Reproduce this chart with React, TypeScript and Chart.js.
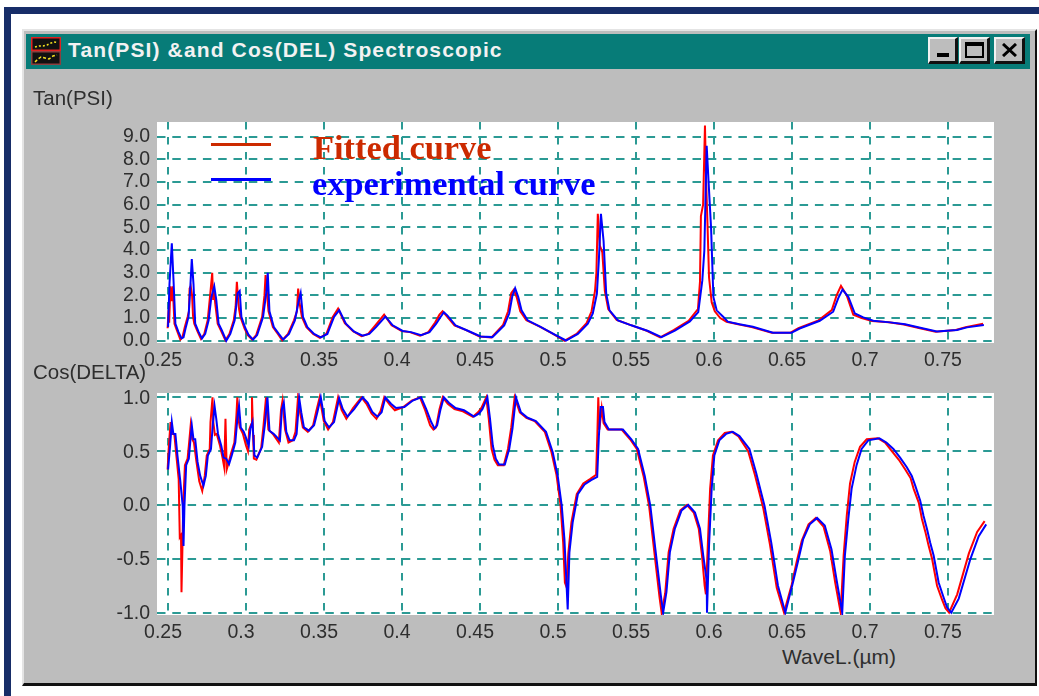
import React, { useEffect, useRef } from "react";
import { Chart, registerables } from "chart.js";

Chart.register(...registerables);

const wavelengthTicks = [0.25, 0.3, 0.35, 0.4, 0.45, 0.5, 0.55, 0.6, 0.65, 0.7, 0.75];
const tanTicks = [0, 1, 2, 3, 4, 5, 6, 7, 8, 9];
const cosTicks = [-1, -0.5, 0, 0.5, 1];

const tanExp = [[.25,.6],[.2509,2.5],[.2524,4.3],[.2534,2.8],[.2547,.75],[.2567,.38],[.2586,.1],[.2599,.15],[.2614,.6],[.2631,1.05],[.2642,2.3],[.2652,3.6],[.2663,2.5],[.2674,.75],[.2695,.4],[.2717,.1],[.2738,.3],[.276,.9],[.2777,1.9],[.2796,2.4],[.2809,1.8],[.2824,.75],[.2845,.45],[.2873,0],[.2899,.3],[.2927,.9],[.2946,2.1],[.2959,2.2],[.297,1.05],[.2996,.55],[.3017,.25],[.3045,.05],[.3071,.25],[.3109,1.05],[.3131,2.2],[.3139,3],[.315,1.3],[.3178,.6],[.321,.3],[.3238,.05],[.3275,.3],[.3313,.9],[.3339,1.8],[.335,2.1],[.3365,1.05],[.3393,.6],[.3436,.3],[.3479,.15],[.3521,.3],[.3564,1.05],[.3597,1.35],[.364,.75],[.3693,.4],[.3747,.22],[.379,.3],[.3833,.6],[.3893,1.07],[.394,.68],[.4004,.43],[.4058,.38],[.4122,.24],[.4176,.38],[.4219,.75],[.4247,1.05],[.4268,1.26],[.429,1.12],[.4343,.68],[.4418,.45],[.4504,.19],[.4579,.16],[.4655,.68],[.4687,1.2],[.4708,2],[.4725,2.32],[.4745,1.93],[.4766,1.34],[.4805,.9],[.4891,.6],[.4976,.28],[.5051,.01],[.5127,.3],[.5191,.75],[.5223,1.2],[.5249,2.07],[.5262,3.6],[.5275,5.6],[.5292,4.4],[.5309,2.07],[.533,1.34],[.5384,.9],[.547,.68],[.5577,.43],[.5663,.16],[.5749,.45],[.5845,.85],[.5899,1.26],[.5925,2.66],[.5938,3.98],[.5953,8.6],[.5964,7.15],[.5981,5],[.5996,1.93],[.6017,1.34],[.606,1.05],[.6088,.84],[.6163,.73],[.6249,.62],[.6378,.35],[.6496,.35],[.6549,.54],[.6678,.88],[.6764,1.28],[.6796,1.87],[.6824,2.26],[.6861,1.94],[.6903,1.2],[.6957,1.03],[.7021,.88],[.7129,.81],[.7225,.73],[.7322,.57],[.7429,.41],[.7558,.47],[.7622,.59],[.773,.69]];

const tanFit = [[.2497,.55],[.2503,1.35],[.2507,.8],[.2515,2.4],[.2522,1.75],[.253,2.4],[.2541,.75],[.2561,.38],[.2579,.05],[.2592,.15],[.2607,.6],[.2625,1.05],[.2634,1.3],[.2638,2.3],[.2645,2.4],[.2654,2],[.266,1.1],[.2668,.75],[.2688,.42],[.2711,.08],[.2732,.3],[.2754,.9],[.2771,2.1],[.2783,3],[.2789,1.8],[.2796,2.1],[.2803,1.6],[.2818,.75],[.2839,.45],[.2868,.02],[.2893,.3],[.2921,.9],[.2933,1.5],[.2941,2.6],[.2948,1.9],[.2955,1.4],[.2964,1.05],[.299,.55],[.3011,.25],[.3039,.05],[.3065,.25],[.3103,1.05],[.3118,2],[.3125,2.9],[.3134,2.1],[.3144,1.3],[.3172,.6],[.3204,.3],[.3232,.02],[.3269,.3],[.3307,.9],[.3326,1.3],[.3334,2.3],[.3342,1.7],[.3358,1.05],[.3387,.6],[.343,.3],[.3473,.13],[.3515,.3],[.3556,1.05],[.359,1.42],[.3633,.78],[.3686,.42],[.374,.2],[.3783,.3],[.3826,.65],[.3885,1.15],[.3933,.68],[.3998,.43],[.405,.38],[.4115,.22],[.4169,.38],[.4212,.8],[.424,1.15],[.426,1.3],[.4282,1.12],[.4336,.68],[.4411,.47],[.4497,.19],[.4572,.14],[.4648,.7],[.468,1.3],[.47,2.1],[.4716,2.25],[.4736,1.9],[.4758,1.3],[.4797,.9],[.4883,.62],[.4968,.3],[.5043,0],[.5119,.3],[.5183,.78],[.5215,1.3],[.5237,2.2],[.5246,3],[.5255,5.6],[.5268,4.2],[.5284,3.9],[.53,2.2],[.5322,1.4],[.5376,.92],[.5462,.7],[.5569,.44],[.5655,.15],[.5741,.47],[.5837,.88],[.5897,1.4],[.591,2.6],[.5916,5.5],[.593,6],[.5942,9.5],[.595,6.9],[.5958,5.2],[.5968,2.8],[.5985,1.7],[.6005,1.3],[.604,1],[.608,.84],[.6155,.73],[.6241,.6],[.637,.35],[.6488,.35],[.6541,.55],[.667,.9],[.6755,1.35],[.6786,2],[.6814,2.42],[.6851,2],[.6893,1.15],[.6947,1],[.7013,.87],[.712,.82],[.7217,.72],[.7313,.56],[.742,.4],[.755,.47],[.7613,.6],[.7725,.75]];

const cosExp = [[.25,.33],[.2513,.55],[.2524,.77],[.2534,.66],[.2547,.66],[.256,.46],[.2577,.24],[.2594,-.01],[.2599,-.38],[.2605,-.01],[.2616,.37],[.2633,.43],[.2642,.58],[.2652,.74],[.2663,.61],[.2674,.61],[.2689,.4],[.2706,.27],[.2727,.18],[.2742,.27],[.2755,.46],[.2775,.52],[.2788,.77],[.2798,.92],[.2809,.8],[.282,.66],[.2841,.55],[.2856,.44],[.2873,.43],[.2891,.38],[.291,.47],[.2931,.58],[.2946,.83],[.2955,.92],[.2966,.72],[.2985,.68],[.3006,.6],[.3017,.55],[.3028,.71],[.3041,.77],[.3054,.46],[.3071,.44],[.3103,.54],[.312,.74],[.3137,1],[.315,.69],[.3178,.66],[.3217,.6],[.323,.89],[.3242,.95],[.3258,.68],[.3279,.6],[.3307,.6],[.3324,.66],[.3341,.99],[.3354,.86],[.3371,.72],[.3403,.69],[.3436,.74],[.3457,.86],[.3479,1],[.3504,.78],[.3532,.72],[.3564,.77],[.3597,.99],[.362,.89],[.365,.82],[.3693,.89],[.3747,1],[.3779,.95],[.3811,.86],[.3843,.82],[.3869,.86],[.3893,1],[.3929,.94],[.3961,.9],[.4015,.91],[.4069,.97],[.4122,1],[.4155,.89],[.4187,.77],[.4208,.71],[.4225,.74],[.4247,.89],[.4268,1],[.43,.95],[.4343,.9],[.4397,.88],[.4461,.82],[.4494,.85],[.4515,.89],[.4547,1],[.4564,.8],[.4582,.55],[.4601,.43],[.4622,.375],[.4659,.375],[.4687,.52],[.4708,.71],[.473,1],[.4762,.86],[.4805,.81],[.4858,.78],[.4923,.68],[.4966,.49],[.4998,.27],[.5024,-.01],[.5041,-.32],[.5062,-.97],[.5073,-.44],[.5094,-.16],[.5127,.1],[.517,.19],[.5212,.23],[.5251,.26],[.5262,.64],[.5273,.91],[.5288,.91],[.5298,.77],[.5326,.7],[.5416,.7],[.547,.61],[.5513,.52],[.5556,.27],[.5592,-.01],[.5624,-.41],[.5659,-.84],[.5674,-1],[.5695,-.81],[.5717,-.44],[.5749,-.22],[.5792,-.05],[.5835,0],[.5878,-.07],[.591,-.22],[.5931,-.47],[.5953,-.7],[.5955,-1],[.5968,-.38],[.5985,.15],[.6002,.46],[.6034,.6],[.6077,.66],[.612,.68],[.6163,.64],[.6227,.52],[.627,.3],[.6324,-.01],[.6367,-.35],[.641,-.75],[.6457,-1],[.6506,-.72],[.6539,-.52],[.6571,-.32],[.6614,-.18],[.6661,-.12],[.671,-.19],[.6753,-.41],[.6785,-.69],[.6822,-1],[.6839,-.47],[.6861,-.13],[.6882,.15],[.6914,.37],[.6946,.52],[.6989,.6],[.706,.62],[.7105,.58],[.715,.52],[.7193,.44],[.7236,.35],[.7268,.27],[.729,.18],[.7322,.04],[.7343,-.1],[.7365,-.22],[.7386,-.35],[.7408,-.47],[.744,-.72],[.7472,-.86],[.7494,-.95],[.7521,-1],[.7569,-.87],[.7644,-.5],[.7697,-.29],[.7745,-.18]];

const cosFit = [[.2497,.33],[.2505,.55],[.2516,.77],[.2525,.66],[.254,.66],[.2553,.46],[.2568,.24],[.2575,-.3],[.2583,-.28],[.2586,-.81],[.2592,-.4],[.2597,0],[.2608,.37],[.2625,.43],[.2635,.58],[.2645,.74],[.2655,.61],[.2666,.58],[.2682,.4],[.27,.22],[.2719,.13],[.2735,.27],[.2748,.46],[.2767,.52],[.2772,.77],[.2785,1],[.279,.77],[.28,.65],[.2812,.66],[.2833,.55],[.2849,.44],[.286,.35],[.2868,.8],[.2876,.33],[.2886,.38],[.2902,.47],[.2925,.58],[.2938,.83],[.2944,1],[.2951,.8],[.296,.72],[.298,.66],[.3,.55],[.3012,.5],[.302,.7],[.3033,.75],[.3038,1],[.3045,.65],[.305,.43],[.3066,.42],[.3097,.53],[.3112,.74],[.3128,1],[.3143,.7],[.3172,.66],[.321,.58],[.3224,.88],[.3234,.97],[.325,.7],[.3272,.58],[.33,.6],[.3317,.68],[.3333,1],[.3347,.85],[.3364,.72],[.3396,.68],[.343,.74],[.345,.87],[.3472,1],[.3498,.78],[.3526,.7],[.3557,.77],[.359,1],[.3613,.88],[.3643,.8],[.3686,.9],[.374,1],[.3772,.94],[.3804,.85],[.3836,.8],[.3862,.87],[.3886,1],[.3922,.93],[.3954,.88],[.4008,.91],[.4062,.97],[.4115,1],[.4148,.88],[.418,.74],[.4201,.7],[.4218,.72],[.424,.89],[.4261,1],[.4293,.94],[.4336,.89],[.439,.87],[.4454,.82],[.4487,.86],[.4508,.9],[.454,1],[.4556,.8],[.4574,.52],[.4593,.42],[.4614,.37],[.4652,.37],[.4679,.52],[.47,.72],[.4722,1],[.4755,.86],[.4797,.81],[.485,.78],[.4915,.68],[.4958,.49],[.499,.28],[.5016,0],[.5033,-.35],[.5044,-.72],[.5054,-.76],[.5066,-.45],[.5086,-.16],[.512,.1],[.5162,.2],[.5205,.24],[.5244,.28],[.5252,.65],[.5258,1],[.5265,.7],[.528,.9],[.5292,.76],[.5318,.7],[.5408,.7],[.5462,.61],[.5505,.52],[.5548,.27],[.5584,-.01],[.5616,-.42],[.5651,-.86],[.5664,-1],[.5687,-.82],[.5709,-.44],[.5741,-.22],[.5784,-.05],[.5827,0],[.587,-.07],[.5902,-.22],[.5923,-.47],[.594,-.75],[.5948,-.83],[.596,-.38],[.5975,.15],[.5993,.46],[.6026,.6],[.6069,.67],[.6112,.68],[.6155,.64],[.6219,.5],[.6262,.28],[.6316,-.03],[.6359,-.37],[.6402,-.77],[.6449,-1],[.6498,-.74],[.6531,-.52],[.6563,-.33],[.6606,-.18],[.6653,-.12],[.6702,-.2],[.6745,-.43],[.6777,-.72],[.6812,-1],[.6831,-.47],[.6851,-.1],[.6872,.2],[.6902,.4],[.6936,.54],[.6979,.61],[.705,.62],[.7097,.58],[.714,.5],[.7185,.42],[.7226,.33],[.726,.25],[.728,.15],[.7313,.02],[.7333,-.13],[.7355,-.25],[.7376,-.38],[.7398,-.5],[.743,-.75],[.7462,-.88],[.7484,-.96],[.7507,-1],[.7559,-.83],[.7634,-.45],[.7687,-.25],[.7735,-.15]];

const TEAL = "#2b9a94";
const TEXT = "#2e2e2e";
const FONT = "'Liberation Sans', Arial, sans-serif";

const plotBackground = {
  id: "plotBackground",
  beforeDraw(chart: any) {
    const { ctx, chartArea: a } = chart;
    ctx.save();
    ctx.fillStyle = "#ffffff";
    ctx.fillRect(a.left, a.top, a.right - a.left, a.bottom - a.top);
    ctx.restore();
  },
};

function toPoints(list: number[][]) {
  return list.map(([x, y]) => ({ x, y }));
}

interface PanelProps {
  title: string;
  top: number;
  height: number;
  titleTop: number;
  titleGap: number;
  xAxisHeight: number;
  fit: number[][];
  exp: number[][];
  yMin: number;
  yMax: number;
  yTicks: number[];
  yLabelOffset: number;
}

function Panel(p: PanelProps) {
  const ref = useRef<HTMLCanvasElement | null>(null);
  useEffect(() => {
    const chart = new Chart(ref.current as HTMLCanvasElement, {
      type: "line",
      plugins: [plotBackground],
      data: {
        datasets: [
          { label: "experimental curve", data: toPoints(p.exp), borderColor: "#0000ff", borderWidth: 2, pointRadius: 0, tension: 0 },
          { label: "Fitted curve", data: toPoints(p.fit), borderColor: "#ff0000", borderWidth: 2, pointRadius: 0, tension: 0 },
        ],
      },
      options: {
        animation: false,
        responsive: false,
        maintainAspectRatio: false,
        layout: { padding: { left: 0, right: 1039 - 994, top: 0, bottom: 0 } },
        plugins: {
          legend: { display: false },
          tooltip: { enabled: false },
          title: {
            display: true,
            text: p.title,
            align: "start",
            color: TEXT,
            font: { family: FONT, size: 20.5, weight: "normal", lineHeight: 1 },
            padding: { top: p.titleTop, bottom: p.titleGap },
          },
        },
        scales: {
          x: {
            type: "linear",
            min: 0.2429,
            max: 0.7795,
            grid: { color: TEAL, lineWidth: 2, drawTicks: false },
            border: { display: false, dash: [7.5, 7.5] },
            afterBuildTicks: (s: any) => { s.ticks = wavelengthTicks.map((value) => ({ value })); },
            afterFit: (s: any) => { s.height = p.xAxisHeight; },
            ticks: {
              color: TEXT,
              padding: 6,
              labelOffset: -5,
              autoSkip: false,
              maxRotation: 0,
              font: { family: FONT, size: 19.5 },
              callback: (v: any) => String(v),
            },
          },
          y: {
            type: "linear",
            min: p.yMin,
            max: p.yMax,
            grid: { color: TEAL, lineWidth: 2, drawTicks: false },
            border: { display: false, dash: [8.5, 6.8] },
            afterBuildTicks: (s: any) => { s.ticks = p.yTicks.map((value) => ({ value })); },
            afterFit: (s: any) => { s.width = 157 - 33; },
            ticks: {
              color: TEXT,
              padding: 7,
              labelOffset: p.yLabelOffset,
              autoSkip: false,
              font: { family: FONT, size: 19.5 },
              callback: (v: any) => Number(v).toFixed(1),
            },
          },
        },
      },
    } as any);
    return () => chart.destroy();
  }, []);
  return (
    <canvas
      ref={ref}
      width={1039 - 33}
      height={p.height}
      style={{ position: "absolute", left: 33, top: p.top, width: 1039 - 33, height: p.height }}
    />
  );
}

const abs = (left: number, top: number, width: number, height: number, extra: React.CSSProperties = {}): React.CSSProperties => ({
  position: "absolute", left, top, width, height, boxSizing: "border-box", ...extra,
});

const bevel: React.CSSProperties = {
  background: "#bdbdbd",
  borderTop: "2px solid #f2f2f2",
  borderLeft: "2px solid #f2f2f2",
  borderRight: "3px solid #111",
  borderBottom: "3px solid #111",
};

function AppIcon() {
  return (
    <svg style={abs(31, 37, 30, 28)} viewBox="0 0 30 28">
      <rect x="0.75" y="0.75" width="28.5" height="12.5" fill="#111" stroke="#e02020" strokeWidth="1.5" />
      <rect x="0.75" y="14.75" width="28.5" height="12.5" fill="#111" stroke="#8a4040" strokeWidth="1.5" />
      <polyline points="4,10 8,9 12,9 16,8 20,6 24,5 27,6" fill="none" stroke="#f5e020" strokeWidth="1.5" strokeDasharray="2 2" />
      <polyline points="4,25 7,22 10,20 14,21 18,22 22,19 26,18" fill="none" stroke="#f5e020" strokeWidth="1.5" strokeDasharray="3 2" />
    </svg>
  );
}

export default function App() {
  return (
    <div style={{ position: "fixed", left: 0, top: 0, width: 1039, height: 696, background: "#fff", overflow: "hidden", fontFamily: FONT, filter: "blur(0.45px)" }}>
      <div style={abs(4, 7, 1035, 6.5, { background: "#172d68" })} />
      <div style={abs(4, 7, 7, 689, { background: "#172d68" })} />

      <div style={abs(22, 29, 1015, 657, { background: "#bdbdbd", borderLeft: "2px solid #e4e4e4", borderTop: "2px solid #e4e4e4", borderRight: "2px solid #111", borderBottom: "3px solid #111" })} />
      <div style={abs(26, 33.5, 1003.5, 35, { background: "#077c78" })} />
      <AppIcon />
      <div style={{ position: "absolute", left: 68, top: 37, color: "#f2f2f2", fontWeight: 700, fontSize: 21, letterSpacing: 1.13, whiteSpace: "nowrap", lineHeight: "26px" }}>
        Tan(PSI) &amp;and Cos(DEL) Spectroscopic
      </div>
      <div style={abs(928, 37, 30, 27, bevel)}><div style={abs(7, 14, 12, 4, { background: "#000" })} /></div>
      <div style={abs(959, 37, 31, 27, bevel)}><div style={abs(4, 3, 19, 16, { border: "2px solid #000", borderTop: "4px solid #000" })} /></div>
      <div style={abs(994, 37, 31, 27, bevel)}>
        <svg style={abs(6, 4, 15, 14)} viewBox="0 0 15 14"><path d="M1 1 L14 13 M14 1 L1 13" stroke="#000" strokeWidth="3" /></svg>
      </div>

      <Panel title="Tan(PSI)" top={88} height={285} titleTop={1.5} titleGap={12} xAxisHeight={30} fit={tanFit} exp={tanExp} yMin={-0.1} yMax={9.65} yTicks={tanTicks} yLabelOffset={0} />
      <Panel title="Cos(DELTA)" top={362} height={283} titleTop={1.5} titleGap={9} xAxisHeight={30} fit={cosFit} exp={cosExp} yMin={-1.022} yMax={1.04} yTicks={cosTicks} yLabelOffset={1} />

      <div style={abs(211, 142.5, 60, 3, { background: "#cc2a00" })} />
      <div style={abs(211, 177.5, 60, 3, { background: "#0000ff" })} />
      <div style={{ position: "absolute", left: 313, top: 127, color: "#cc2a00", fontFamily: "'Liberation Serif', serif", fontWeight: 700, fontSize: 34.4, lineHeight: "40px", whiteSpace: "nowrap" }}>Fitted curve</div>
      <div style={{ position: "absolute", left: 312, top: 163, color: "#0000ff", fontFamily: "'Liberation Serif', serif", fontWeight: 700, fontSize: 34.4, lineHeight: "40px", whiteSpace: "nowrap" }}>experimental curve</div>
      <div style={{ position: "absolute", left: 782, top: 645, color: TEXT, fontSize: 21, lineHeight: "24px", whiteSpace: "nowrap" }}>WaveL.(µm)</div>
    </div>
  );
}
